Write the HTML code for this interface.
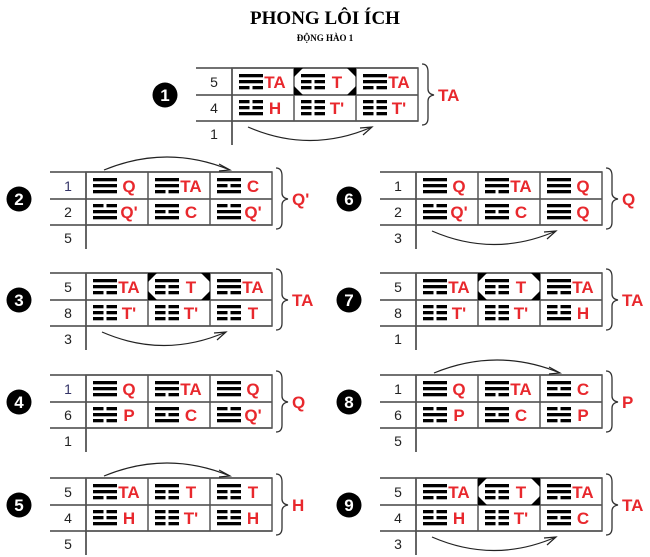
<!DOCTYPE html>
<html><head><meta charset="utf-8"><style>body{margin:0;background:#fff}svg{display:block}</style></head><body>
<svg width="650" height="557" viewBox="0 0 650 557" xmlns="http://www.w3.org/2000/svg">
<defs>
<g id="s"><rect width="24" height="3.3"/></g>
<g id="b"><rect width="10.5" height="3.3"/><rect x="13.5" width="10.5" height="3.3"/></g>
<g id="Q"><use href="#s"/><use href="#s" y="6"/><use href="#s" y="12"/></g>
<g id="TA"><use href="#s"/><use href="#s" y="6"/><use href="#b" y="12"/></g>
<g id="T"><use href="#s"/><use href="#b" y="6"/><use href="#b" y="12"/></g>
<g id="Tp"><use href="#b"/><use href="#b" y="6"/><use href="#b" y="12"/></g>
<g id="H"><use href="#b"/><use href="#b" y="6"/><use href="#s" y="12"/></g>
<g id="Qp"><use href="#b"/><use href="#s" y="6"/><use href="#s" y="12"/></g>
<g id="C"><use href="#s"/><use href="#b" y="6"/><use href="#s" y="12"/></g>
<g id="P"><use href="#b"/><use href="#s" y="6"/><use href="#b" y="12"/></g>
<g id="frame">
<line x1="0" y1="0" x2="222" y2="0" stroke="#444" stroke-width="1.5"/>
<line x1="0" y1="27" x2="222" y2="27" stroke="#444" stroke-width="1.5"/>
<line x1="0" y1="53" x2="222" y2="53" stroke="#444" stroke-width="1.5"/>
<line x1="36" y1="0" x2="36" y2="77" stroke="#333" stroke-width="1.5"/>
<rect x="36" y="0" width="186" height="53" fill="none" stroke="#555" stroke-width="1.5"/>
<line x1="98" y1="0" x2="98" y2="53" stroke="#555" stroke-width="1.5"/>
<line x1="160" y1="0" x2="160" y2="53" stroke="#555" stroke-width="1.5"/>
<path d="M226,-4 Q232,-4 232,4 L232,21 Q232,26 238,27 Q232,28 232,33 L232,50 Q232,57 226,57" fill="none" stroke="#333" stroke-width="1.3"/>
<circle cx="-31" cy="27" r="12.5" fill="#000"/>
</g>
<path id="oct" d="M98,0 L107,0 L98,9Z M151,0 L160,0 L160,9Z M98,18 L98,27 L107,27Z M160,18 L160,27 L151,27Z" fill="#000"/>
<g id="up"><path d="M54,-2 Q117,-28 180,-2" fill="none" stroke="#222" stroke-width="1.2"/><path d="M169,-8 L180,-2 L169,-1" fill="none" stroke="#222" stroke-width="1.2"/></g>
<g id="down"><path d="M52,59 Q114,86 176,59" fill="none" stroke="#222" stroke-width="1.2"/><path d="M164,60 L176,59 L167,67" fill="none" stroke="#222" stroke-width="1.2"/></g>
</defs>
<style>
.n{font:14px "Liberation Sans",sans-serif;fill:#222;text-anchor:middle}
.l{font:bold 17px "Liberation Sans",sans-serif;fill:#e8282d;text-anchor:middle}
.c{font:bold 17px "Liberation Sans",sans-serif;fill:#fff;text-anchor:middle}
.r{font:bold 17px "Liberation Sans",sans-serif;fill:#e8282d}
</style>
<text x="325" y="24" text-anchor="middle" style="font:bold 19px 'Liberation Serif',serif">PHONG LÔI ÍCH</text>
<text x="325" y="41" text-anchor="middle" style="font:bold 9px 'Liberation Serif',serif">ĐỘNG HÀO 1</text>

<g transform="translate(196,68)">
<use href="#frame"/><use href="#oct"/><use href="#down"/>
<text class="c" x="-31" y="33">1</text>
<text class="n" x="18" y="19">5</text><text class="n" x="18" y="45">4</text><text class="n" x="18" y="71">1</text>
<use href="#TA" x="43" y="6"/><text class="l" x="79" y="20">TA</text>
<use href="#T" x="105" y="6"/><text class="l" x="141" y="20">T</text>
<use href="#TA" x="167" y="6"/><text class="l" x="203" y="20">TA</text>
<use href="#H" x="43" y="32"/><text class="l" x="79" y="46">H</text>
<use href="#Tp" x="105" y="32"/><text class="l" x="141" y="46">T'</text>
<use href="#Tp" x="167" y="32"/><text class="l" x="203" y="46">T'</text>
<text class="r" x="242" y="33">TA</text>
</g>

<g transform="translate(50,172)">
<use href="#frame"/><use href="#up"/>
<text class="c" x="-31" y="33">2</text>
<text class="n" x="18" y="19" style="fill:#336">1</text><text class="n" x="18" y="45">2</text><text class="n" x="18" y="71">5</text>
<use href="#Q" x="43" y="6"/><text class="l" x="79" y="20">Q</text>
<use href="#TA" x="105" y="6"/><text class="l" x="141" y="20">TA</text>
<use href="#C" x="167" y="6"/><text class="l" x="203" y="20">C</text>
<use href="#Qp" x="43" y="32"/><text class="l" x="79" y="46">Q'</text>
<use href="#C" x="105" y="32"/><text class="l" x="141" y="46">C</text>
<use href="#Qp" x="167" y="32"/><text class="l" x="203" y="46">Q'</text>
<text class="r" x="242" y="33">Q'</text>
</g>

<g transform="translate(50,273)">
<use href="#frame"/><use href="#oct"/><use href="#down"/>
<text class="c" x="-31" y="33">3</text>
<text class="n" x="18" y="19">5</text><text class="n" x="18" y="45">8</text><text class="n" x="18" y="71">3</text>
<use href="#TA" x="43" y="6"/><text class="l" x="79" y="20">TA</text>
<use href="#T" x="105" y="6"/><text class="l" x="141" y="20">T</text>
<use href="#TA" x="167" y="6"/><text class="l" x="203" y="20">TA</text>
<use href="#Tp" x="43" y="32"/><text class="l" x="79" y="46">T'</text>
<use href="#Tp" x="105" y="32"/><text class="l" x="141" y="46">T'</text>
<use href="#T" x="167" y="32"/><text class="l" x="203" y="46">T</text>
<text class="r" x="242" y="33">TA</text>
</g>

<g transform="translate(50,375)">
<use href="#frame"/>
<text class="c" x="-31" y="33">4</text>
<text class="n" x="18" y="19" style="fill:#336">1</text><text class="n" x="18" y="45">6</text><text class="n" x="18" y="71">1</text>
<use href="#Q" x="43" y="6"/><text class="l" x="79" y="20">Q</text>
<use href="#TA" x="105" y="6"/><text class="l" x="141" y="20">TA</text>
<use href="#Q" x="167" y="6"/><text class="l" x="203" y="20">Q</text>
<use href="#P" x="43" y="32"/><text class="l" x="79" y="46">P</text>
<use href="#C" x="105" y="32"/><text class="l" x="141" y="46">C</text>
<use href="#Qp" x="167" y="32"/><text class="l" x="203" y="46">Q'</text>
<text class="r" x="242" y="33">Q</text>
</g>

<g transform="translate(50,478)">
<use href="#frame"/><use href="#up"/>
<text class="c" x="-31" y="33">5</text>
<text class="n" x="18" y="19">5</text><text class="n" x="18" y="45">4</text><text class="n" x="18" y="71">5</text>
<use href="#TA" x="43" y="6"/><text class="l" x="79" y="20">TA</text>
<use href="#T" x="105" y="6"/><text class="l" x="141" y="20">T</text>
<use href="#T" x="167" y="6"/><text class="l" x="203" y="20">T</text>
<use href="#H" x="43" y="32"/><text class="l" x="79" y="46">H</text>
<use href="#Tp" x="105" y="32"/><text class="l" x="141" y="46">T'</text>
<use href="#H" x="167" y="32"/><text class="l" x="203" y="46">H</text>
<text class="r" x="242" y="33">H</text>
</g>

<g transform="translate(380,172)">
<use href="#frame"/><use href="#down"/>
<text class="c" x="-31" y="33">6</text>
<text class="n" x="18" y="19">1</text><text class="n" x="18" y="45">2</text><text class="n" x="18" y="71">3</text>
<use href="#Q" x="43" y="6"/><text class="l" x="79" y="20">Q</text>
<use href="#TA" x="105" y="6"/><text class="l" x="141" y="20">TA</text>
<use href="#Q" x="167" y="6"/><text class="l" x="203" y="20">Q</text>
<use href="#Qp" x="43" y="32"/><text class="l" x="79" y="46">Q'</text>
<use href="#C" x="105" y="32"/><text class="l" x="141" y="46">C</text>
<use href="#Q" x="167" y="32"/><text class="l" x="203" y="46">Q</text>
<text class="r" x="242" y="33">Q</text>
</g>

<g transform="translate(380,273)">
<use href="#frame"/><use href="#oct"/>
<text class="c" x="-31" y="33">7</text>
<text class="n" x="18" y="19">5</text><text class="n" x="18" y="45">8</text><text class="n" x="18" y="71">1</text>
<use href="#TA" x="43" y="6"/><text class="l" x="79" y="20">TA</text>
<use href="#T" x="105" y="6"/><text class="l" x="141" y="20">T</text>
<use href="#TA" x="167" y="6"/><text class="l" x="203" y="20">TA</text>
<use href="#Tp" x="43" y="32"/><text class="l" x="79" y="46">T'</text>
<use href="#Tp" x="105" y="32"/><text class="l" x="141" y="46">T'</text>
<use href="#H" x="167" y="32"/><text class="l" x="203" y="46">H</text>
<text class="r" x="242" y="33">TA</text>
</g>

<g transform="translate(380,375)">
<use href="#frame"/><use href="#up"/>
<text class="c" x="-31" y="33">8</text>
<text class="n" x="18" y="19">1</text><text class="n" x="18" y="45">6</text><text class="n" x="18" y="71">5</text>
<use href="#Q" x="43" y="6"/><text class="l" x="79" y="20">Q</text>
<use href="#TA" x="105" y="6"/><text class="l" x="141" y="20">TA</text>
<use href="#C" x="167" y="6"/><text class="l" x="203" y="20">C</text>
<use href="#P" x="43" y="32"/><text class="l" x="79" y="46">P</text>
<use href="#C" x="105" y="32"/><text class="l" x="141" y="46">C</text>
<use href="#P" x="167" y="32"/><text class="l" x="203" y="46">P</text>
<text class="r" x="242" y="33">P</text>
</g>

<g transform="translate(380,478)">
<use href="#frame"/><use href="#oct"/><use href="#down"/>
<text class="c" x="-31" y="33">9</text>
<text class="n" x="18" y="19">5</text><text class="n" x="18" y="45">4</text><text class="n" x="18" y="71">3</text>
<use href="#TA" x="43" y="6"/><text class="l" x="79" y="20">TA</text>
<use href="#T" x="105" y="6"/><text class="l" x="141" y="20">T</text>
<use href="#TA" x="167" y="6"/><text class="l" x="203" y="20">TA</text>
<use href="#H" x="43" y="32"/><text class="l" x="79" y="46">H</text>
<use href="#Tp" x="105" y="32"/><text class="l" x="141" y="46">T'</text>
<use href="#C" x="167" y="32"/><text class="l" x="203" y="46">C</text>
<text class="r" x="242" y="33">TA</text>
</g>
</svg>
</body></html>
